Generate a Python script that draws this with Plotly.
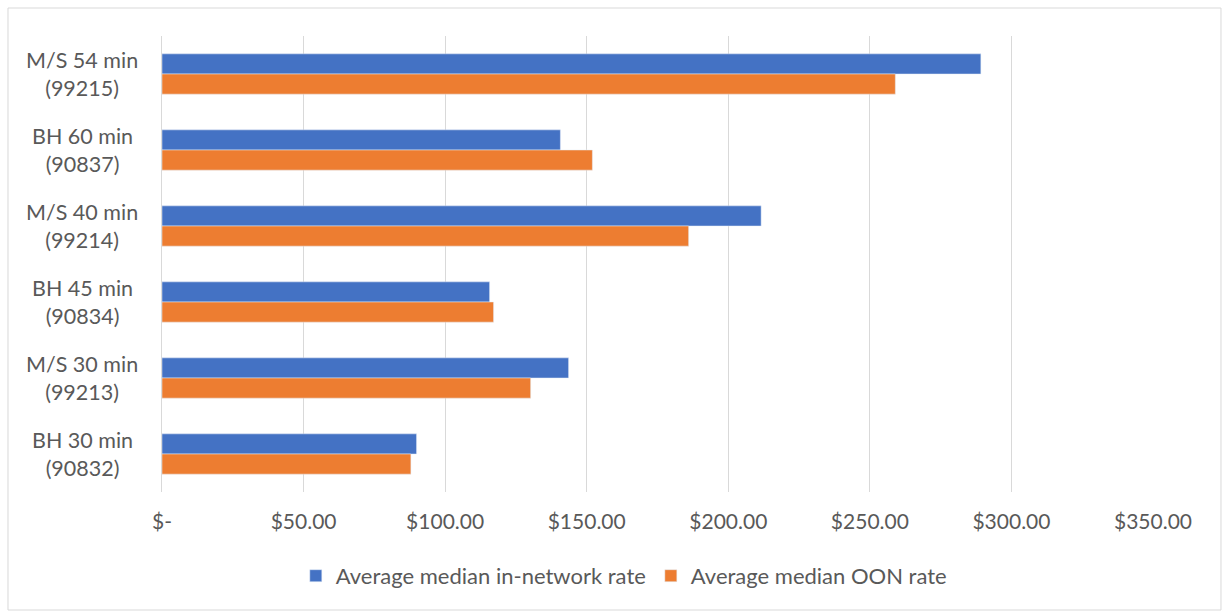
import plotly.graph_objects as go

categories = ["M/S 54 min<br>(99215)", "BH 60 min<br>(90837)", "M/S 40 min<br>(99214)",
              "BH 45 min<br>(90834)", "M/S 30 min<br>(99213)", "BH 30 min<br>(90832)"]
in_network = [289.2, 140.7, 211.6, 115.7, 143.6, 89.9]
oon = [259.0, 152.0, 186.0, 117.1, 130.2, 87.9]
tick_vals = [0, 50, 100, 150, 200, 250, 300, 350]
tick_text = ["$-", "$50.00", "$100.00", "$150.00", "$200.00", "$250.00", "$300.00", "$350.00"]

FONT = "Lato, Roboto, sans-serif"
GREY = "#595959"

fig = go.Figure()
fig.add_trace(go.Bar(y=categories, x=in_network, orientation="h",
                     name="Average median in-network rate", marker_color="#4472C4"))
fig.add_trace(go.Bar(y=categories, x=oon, orientation="h",
                     name="Average median OON rate", marker_color="#ED7D31"))

# category labels, centred as in the original
annotations = [dict(text=c, xref="paper", yref="y", x=-(162 - 82) / 991, y=c,
                    xanchor="center", yanchor="middle", align="center", showarrow=False,
                    font=dict(family=FONT, size=21.5, color=GREY)) for c in categories]

fig.update_layout(
    width=1223, height=612,
    margin=dict(l=162, r=70, t=36, b=120),
    paper_bgcolor="white", plot_bgcolor="white",
    barmode="group", bargap=0.47, bargroupgap=0,
    font=dict(family=FONT, color=GREY, size=21),
    legend=dict(orientation="h", x=0.466, xanchor="center", y=-0.184, yanchor="middle",
                font=dict(size=22, color=GREY), itemwidth=30, traceorder="normal"),
    xaxis=dict(range=[0, 350], tickvals=tick_vals, ticktext=tick_text,
               showgrid=True, gridcolor="#D9D9D9", gridwidth=1, zeroline=False,
               showline=False, ticks="", ticklabelstandoff=15,
               tickfont=dict(size=21, color=GREY)),
    yaxis=dict(autorange="reversed", showline=True, linecolor="#D9D9D9", linewidth=1,
               showgrid=False, ticks="", showticklabels=False),
    annotations=annotations,
    shapes=[dict(type="rect", xref="paper", yref="paper",
                 x0=-0.1554, x1=1.0686, y0=-0.2588, y1=1.0614,
                 line=dict(color="#D9D9D9", width=1), fillcolor="rgba(0,0,0,0)")],
)

fig.write_html("out.html")
